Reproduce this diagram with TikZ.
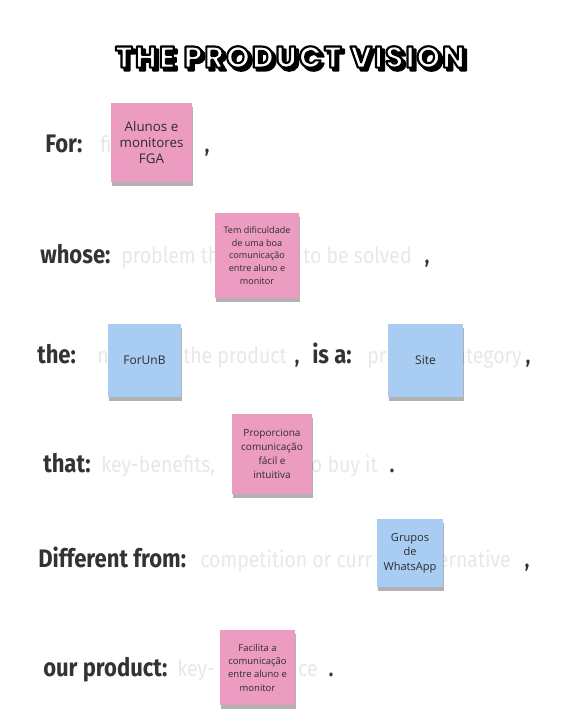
\documentclass[tikz,border=0pt]{standalone}
\usepackage{fontspec}
\setmainfont{Open Sans}
\newfontfamily\handfont[FakeStretch=0.87]{Fira Sans}
\newfontfamily\titlefont[LetterSpace=7]{Poppins}
\usetikzlibrary{shadows}
\definecolor{notepink}{RGB}{236,156,193}
\definecolor{noteblue}{RGB}{168,204,242}
\definecolor{labelink}{RGB}{51,51,51}
\definecolor{hintink}{RGB}{232,232,232}
\definecolor{notetext}{RGB}{45,45,45}
\newcommand\strokedtext[1]{\special{pdf:literal direct 2 Tr 1.6 w 0 0 0 RG 1 j}#1\special{pdf:literal direct 0 Tr}}

\begin{document}
\begin{tikzpicture}[x=0.75pt, y=-0.75pt,
  titletxt/.style={font=\titlefont\bfseries\fontsize{22.5}{24}\selectfont, inner sep=0},
  lbl/.style={font=\handfont\bfseries\fontsize{19}{22}\selectfont, text=labelink, anchor=base west, inner sep=0},
  hint/.style={font=\handfont\fontsize{16.8}{18}\selectfont, text=hintink, inner sep=0},
  punct/.style={font=\handfont\bfseries\fontsize{16}{18}\selectfont, text=labelink, anchor=base, inner sep=0},
  sticky/.style={fill=#1, align=center, text=notetext, inner sep=2pt,
    drop shadow={shadow xshift=1pt, shadow yshift=-3pt, opacity=0.3, fill=black}}]
\fill[white] (0,0) rectangle (573,715);
\useasboundingbox (0,0) rectangle (573,715);

\node[titletxt, text=black] (titleshade) at (293,60) {\strokedtext{THE PRODUCT VISION}};
\node[titletxt, text=white] (title) at (290,57) {\strokedtext{THE PRODUCT VISION}};

\node[lbl] (for) at (45,152) {For:};
\node[hint, anchor=base west] (forhint) at (100,152) {fi};
\node[punct] (forcomma) at (207,152) {,};
\node[sticky=notepink, minimum width=60.75pt, minimum height=59.25pt, font=\fontsize{10}{12}\selectfont] (alunos) at (151.5,142.5) {Alunos e\\monitores\\FGA};

\node[lbl] (whose) at (40,263) {whose:};
\node[hint, anchor=base west] (whosehinta) at (121,263) {problem th};
\node[hint, anchor=base east] (whosehintb) at (412,263) {to be solved};
\node[punct] (whosecomma) at (427,263) {,};
\node[sticky=notepink, minimum width=63pt, minimum height=63.75pt, font=\fontsize{6.8}{9.5}\selectfont] (dificuldade) at (257,255.5) {Tem dificuldade\\de uma boa\\comunicação\\entre aluno e\\monitor};

\node[lbl] (the) at (37,363) {the:};
\node[hint, anchor=base west] (thehinta) at (97,363) {n};
\node[hint, anchor=base east] (thehintb) at (287,363) {the product};
\node[punct] (thecomma) at (297,363) {,};
\node[sticky=noteblue, minimum width=54.75pt, minimum height=54.75pt, font=\fontsize{9}{11}\selectfont] (forunb) at (144.5,360.5) {ForUnB};
\node[lbl] (isa) at (312,363) {is a:};
\node[hint, anchor=base west] (isahinta) at (367,363) {pr};
\node[hint, anchor=base east] (isahintb) at (522,363) {ategory};
\node[punct] (isacomma) at (528,363) {,};
\node[sticky=noteblue, minimum width=56.25pt, minimum height=54.75pt, font=\fontsize{9}{11}\selectfont] (site) at (425.5,360.5) {Site};

\node[lbl] (that) at (43,472) {that:};
\node[hint, anchor=base west] (thathinta) at (101,472) {key-benefits,};
\node[hint, anchor=base east] (thathintb) at (378,472) {o buy it};
\node[punct] (thatdot) at (392,472) {.};
\node[sticky=notepink, minimum width=60pt, minimum height=60pt, font=\fontsize{7.5}{10.5}\selectfont] (proporciona) at (272,454) {Proporciona\\comunicação\\fácil e\\intuitiva};

\node[lbl] (different) at (38,567) {Different from:};
\node[hint, anchor=base west] (diffhinta) at (200,567) {competition or curr};
\node[hint, anchor=base east] (diffhintb) at (511,567) {ernative};
\node[punct] (diffcomma) at (527,567) {,};
\node[sticky=noteblue, minimum width=49.5pt, minimum height=51pt, font=\fontsize{8.3}{11}\selectfont] (whatsapp) at (410,553) {Grupos\\de\\WhatsApp};

\node[lbl] (product) at (43,676) {our product:};
\node[hint, anchor=base west] (prodhinta) at (177,676) {key-};
\node[hint, anchor=base east] (prodhintb) at (318,676) {ce};
\node[punct] (proddot) at (331,676) {.};
\node[sticky=notepink, minimum width=56.25pt, minimum height=56.25pt, font=\fontsize{7.1}{10}\selectfont] (facilita) at (257.5,667.5) {Facilita a\\comunicação\\entre aluno e\\monitor};
\end{tikzpicture}
\end{document}
